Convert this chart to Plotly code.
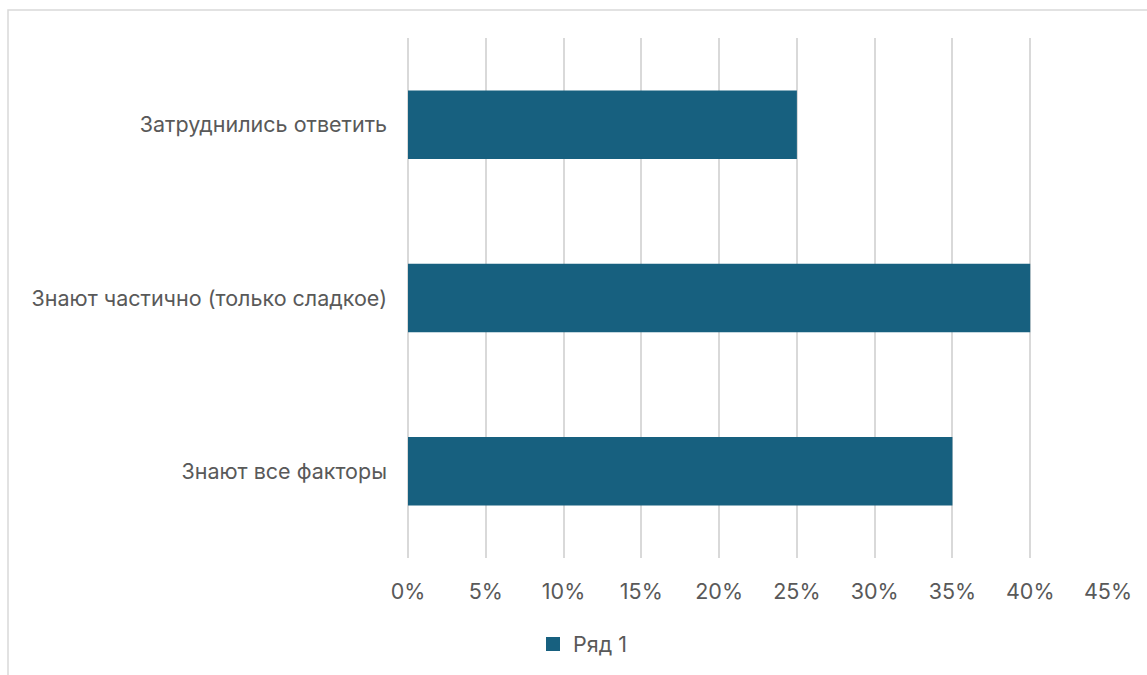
import plotly.graph_objects as go

categories = ["Знают все факторы", "Знают частично (только сладкое)", "Затруднились ответить"]
values = [35, 40, 25]
series_name = "Ряд 1"

W, H = 1147, 675
L, R, T, B = 408, 39, 38, 116
pw, ph = W - L - R, H - T - B
BAR_COLOR = "#17607F"

def px_x(p):
    return (p - L) / pw

def px_y(p):
    return (H - B - p) / ph

fig = go.Figure()
fig.add_trace(go.Bar(
    y=categories, x=values, orientation="h", name=series_name,
    marker=dict(color=BAR_COLOR, line=dict(width=0)),
    showlegend=False,
))
# legend proxy with a larger square swatch
fig.add_trace(go.Scatter(
    x=[None], y=[None], mode="markers", name=series_name,
    marker=dict(symbol="square", size=14, color=BAR_COLOR),
    showlegend=True,
))

font = dict(family="Inter, sans-serif", size=21.5, color="#595959")
fig.update_layout(
    width=W, height=H,
    margin=dict(l=L, r=R, t=T, b=B),
    paper_bgcolor="white", plot_bgcolor="white",
    font=font,
    bargap=0.605,
    xaxis=dict(range=[0, 45], dtick=5, ticksuffix="%", showgrid=True,
               gridcolor="#D9D9D9", gridwidth=1.5, zeroline=True,
               zerolinecolor="#D9D9D9", zerolinewidth=1.5,
               showline=False, ticks="", ticklabelstandoff=18, fixedrange=True),
    yaxis=dict(categoryorder="array", categoryarray=categories, showgrid=False,
               zeroline=False, showline=False, ticks="", ticklabelstandoff=20),
    legend=dict(orientation="h", x=px_x(533), xanchor="left", y=px_y(644), yanchor="middle",
                font=font, itemwidth=30),
    shapes=[dict(type="rect", xref="paper", yref="paper",
                 x0=px_x(8), x1=px_x(1160), y0=px_y(690), y1=px_y(10),
                 line=dict(color="#D9D9D9", width=1.5), fillcolor="rgba(0,0,0,0)", layer="below")],
)

fig.write_html("out.html")
